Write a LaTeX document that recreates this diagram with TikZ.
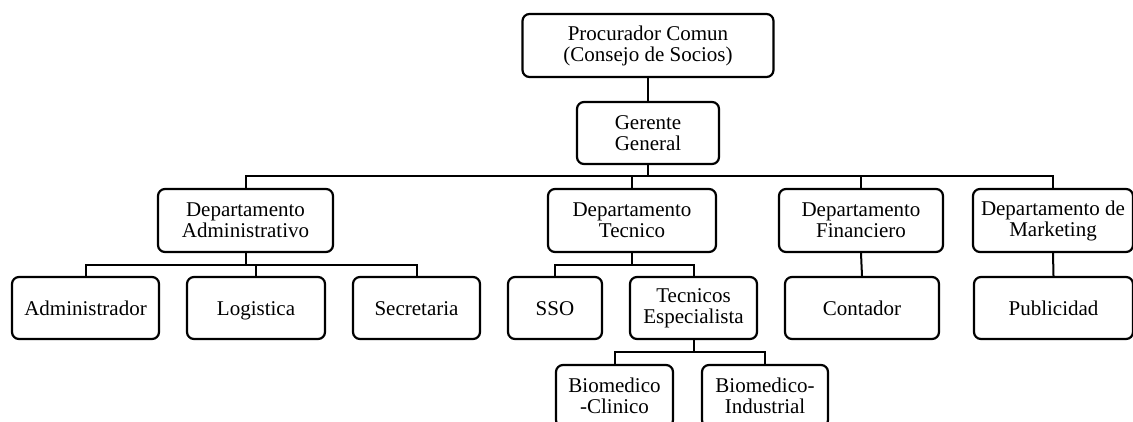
\documentclass[tikz,border=0pt]{standalone}
\usepackage{fontspec}
\setmainfont{Liberation Serif}
\begin{document}
\begin{tikzpicture}[x=1pt,y=-1pt,
  orgbox/.style={draw=black, line width=2.2pt, rounded corners=7pt, fill=white,
    inner sep=0pt, align=center, minimum height=62pt,
    font=\fontsize{21}{21}\selectfont},
  oneline/.style={text height=14pt, text depth=0pt},
  link/.style={draw=black, line width=2pt}]
\useasboundingbox (0,0) rectangle (1133,421);
\clip (0,0) rectangle (1133,421);

% top levels
\node[orgbox, minimum width=251pt, minimum height=63pt] (proc) at (648,45.5) {Procurador Comun\\(Consejo de Socios)};
\node[orgbox, minimum width=142pt] (ger) at (648,133) {Gerente\\General};

% departments
\node[orgbox, minimum width=175pt, minimum height=63pt] (dadm) at (245.5,220.5) {Departamento\\Administrativo};
\node[orgbox, minimum width=168pt, minimum height=63pt] (dtec) at (632,220.5) {Departamento\\Tecnico};
\node[orgbox, minimum width=164pt, minimum height=63pt] (dfin) at (861,220.5) {Departamento\\Financiero};
\node[orgbox, minimum width=160pt, minimum height=63pt] (dmkt) at (1053,220.5) {Departamento de\\Marketing};

% staff
\node[orgbox, oneline, minimum width=147pt] (adm) at (85.5,308) {Administrador};
\node[orgbox, oneline, minimum width=138pt] (log) at (256,308) {Logistica};
\node[orgbox, oneline, minimum width=127pt] (sec) at (416.5,308) {Secretaria};
\node[orgbox, oneline, minimum width=94pt] (sso) at (555,308) {SSO};
\node[orgbox, minimum width=127pt] (tesp) at (693.5,308) {Tecnicos\\Especialista};
\node[orgbox, oneline, minimum width=154pt] (cont) at (862,308) {Contador};
\node[orgbox, oneline, minimum width=159pt] (pub) at (1053.5,308) {Publicidad};

% biomedical specialists
\node[orgbox, minimum width=117pt] (bcli) at (614.5,396) {Biomedico\\-Clinico};
\node[orgbox, minimum width=126pt] (bind) at (765,396) {Biomedico-\\Industrial};

% bus levels
\coordinate (bus) at (648,176);
\coordinate (abus) at (246,264.5);
\coordinate (tbus) at (633,265);
\coordinate (bbus) at (693,352);

\draw[link] (proc.south) -- (ger.north);
\draw[link] (ger.south) -- (bus);
\draw[link] (dadm.north) |- (bus) -| (dmkt.north);
\draw[link] (dtec.north) -- (dtec.north |- bus);
\draw[link] (dfin.north) -- (dfin.north |- bus);

\draw[link] (dadm.south) -- (dadm.south |- abus);
\draw[link] (adm.north) |- (abus) -| (sec.north);
\draw[link] (log.north) -- (log.north |- abus);

\draw[link] (dtec.south) -- (dtec.south |- tbus);
\draw[link] (sso.north) |- (tbus) -| (tesp.north);

\draw[link] (dfin.south) -- (cont.north);
\draw[link] (dmkt.south) -- (pub.north);

\draw[link] (tesp.south) -- (tesp.south |- bbus);
\draw[link] (bcli.north) |- (bbus) -| (bind.north);
\end{tikzpicture}
\end{document}
